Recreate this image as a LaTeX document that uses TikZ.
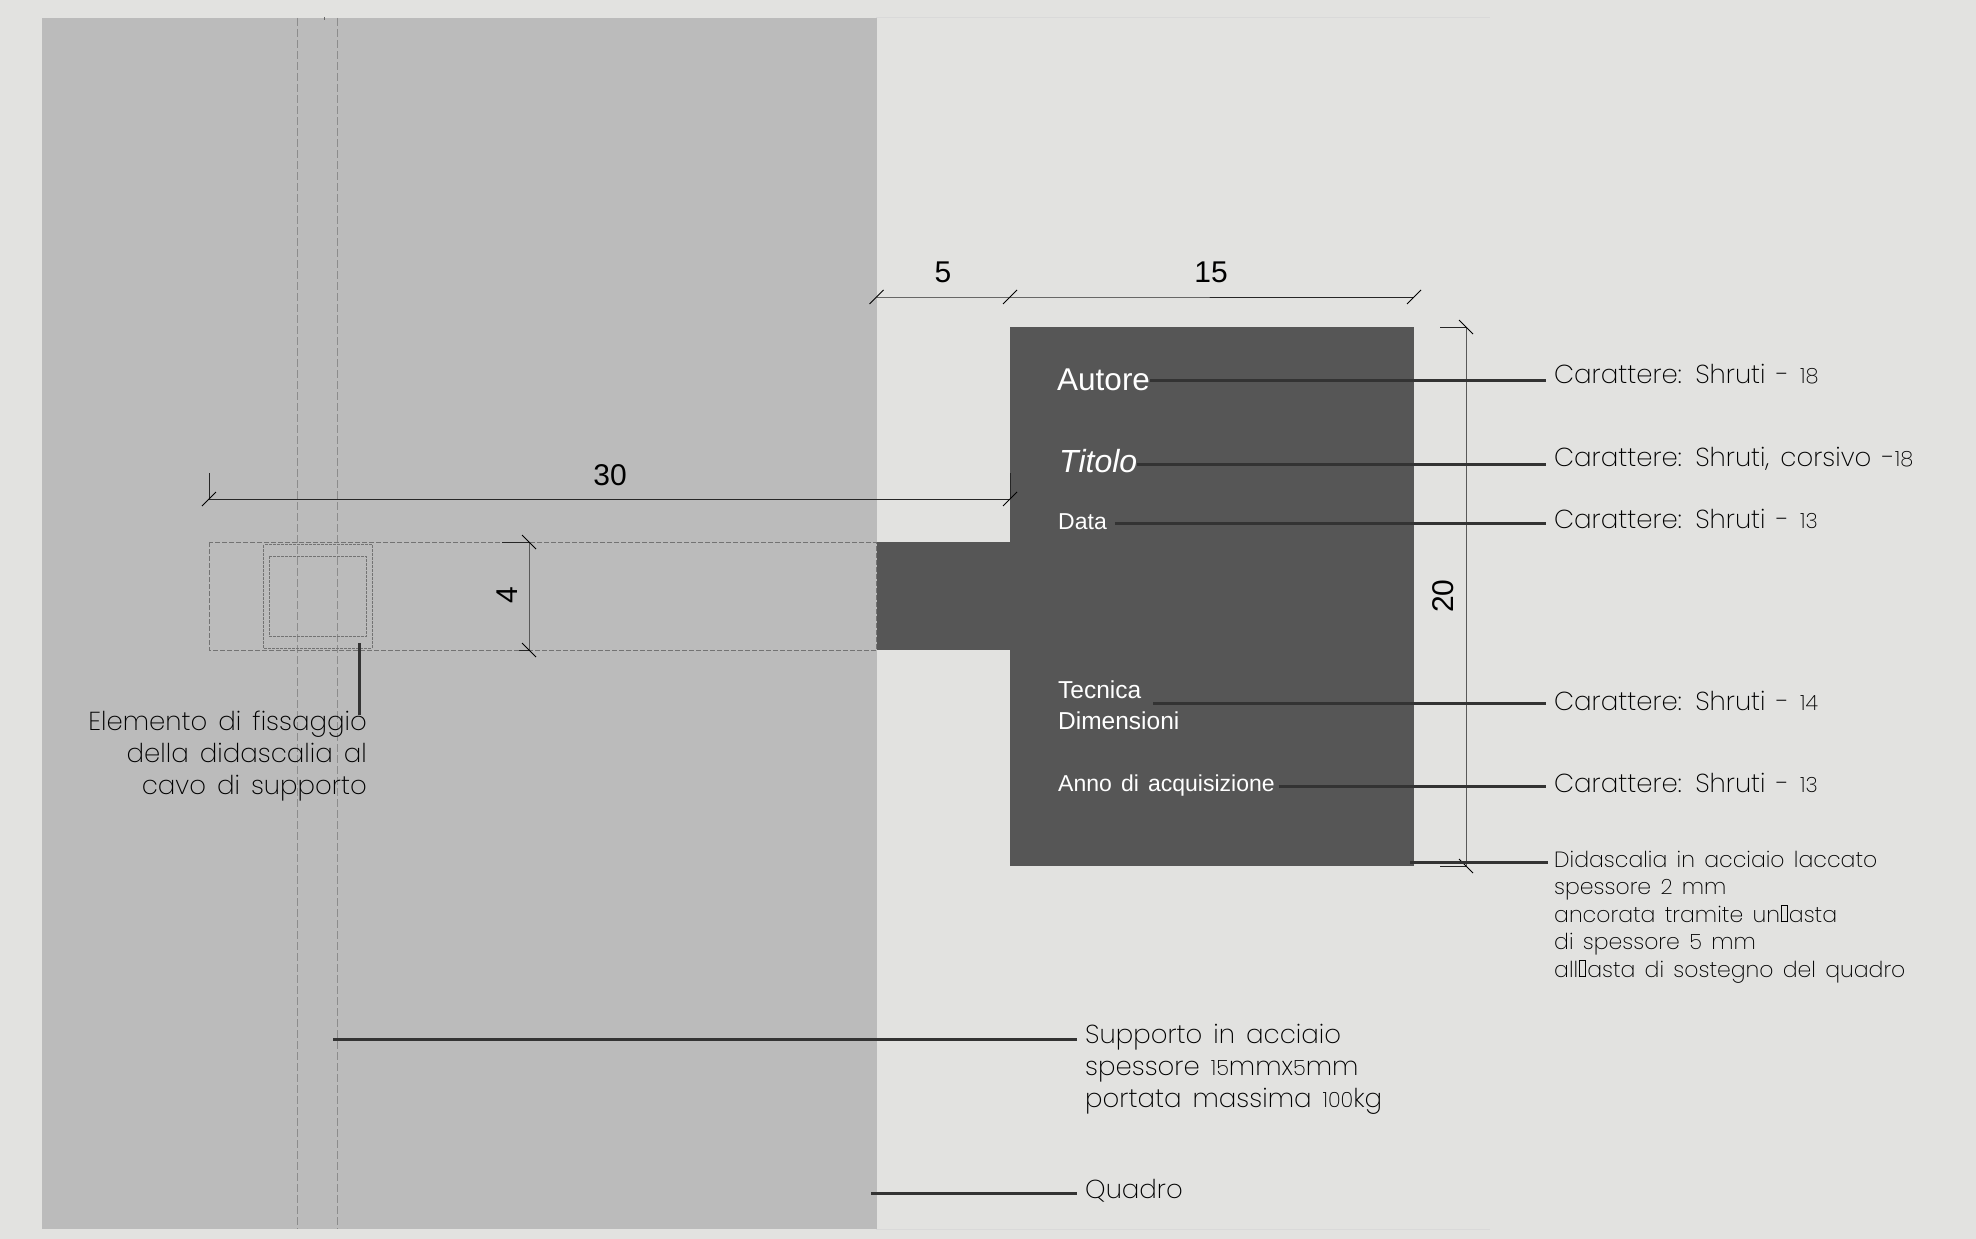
\documentclass[tikz,border=0pt]{standalone}
\usepackage{fontspec}
\setmainfont{Liberation Sans}
\newfontfamily\labelfont[WordSpace=1.5]{Poppins ExtraLight}
\definecolor{fondo}{HTML}{E2E2E0}
\definecolor{quadro}{HTML}{BBBBBB}
\definecolor{targa}{HTML}{565656}
\definecolor{guida}{HTML}{333333}
\newcommand{\cifra}[1]{{\fontsize{21}{27}\selectfont #1}}
\newcommand{\vuoto}{\kern1pt\rule[0pt]{1pt}{17pt}\kern-1pt\rule[16pt]{7pt}{1pt}\kern-7pt\rule[0pt]{7pt}{1pt}\kern-1pt\rule[0pt]{1pt}{17pt}\kern1pt}
\tikzset{
  guideline/.style={color=guida,line width=3pt},
  dimline/.style={color=black!85,line width=1pt},
  tickline/.style={color=black,line width=.9pt},
  hidden/.style={color=black!55,line width=1pt,dash pattern=on 5pt off 2pt},
  labeltext/.style={color=black,inner sep=0pt,anchor=west,font=\labelfont\fontsize{26}{32}\selectfont},
  platetext/.style={color=white,inner sep=0pt,anchor=west},
  dimtext/.style={color=black,font=\fontsize{30}{32}\selectfont,inner sep=0pt}
}
\begin{document}
\begin{tikzpicture}[x=1pt,y=-1pt]
	\fill[fondo] (0,0) rectangle (1976,1239);
	\useasboundingbox (0,0) rectangle (1976,1239);
	\draw[color=black!15,line width=1pt] (876,18) -- (1490,18);
	\draw[color=black!15,line width=1pt] (876,1229) -- (1490,1229);
	\fill[quadro] (42,18) rectangle (876.5,1229);
	\fill[targa] (876.5,542) rectangle (1010,650);
	\fill[targa] (1010,327) rectangle (1414,866);
	% parti nascoste
	\draw[hidden,dash pattern=on 8pt off 3pt,color=black!45] (297.5,18) -- (297.5,1229);
	\draw[hidden,dash pattern=on 8pt off 3pt,color=black!45] (337.5,18) -- (337.5,1229);
	\draw[hidden,color=black!60] (324,17) -- (324,20);
	\draw[hidden] (209,542) rectangle (876.5,650);
	\draw[hidden,dash pattern=on 3pt off 1pt] (263.5,544.5) rectangle (372,648);
	\draw[hidden,dash pattern=on 3pt off 1pt] (269,556) rectangle (366,636.5);
	% quote
	\coordinate (q30a) at (209,499);
	\coordinate (q30b) at (1010,499);
	\coordinate (q5a) at (876.5,297);
	\coordinate (q5b) at (1010,297);
	\coordinate (q15b) at (1414,297);
	\coordinate (q4a) at (529,542);
	\coordinate (q4b) at (529,650);
	\coordinate (q20a) at (1466,327);
	\coordinate (q20b) at (1466,866);
	\draw[dimline] (q30a) -- (q30b);
	\draw[dimline] (q30a) -- ++(0,-26);
	\draw[dimline] (q30b) -- ++(0,-26);
	\draw[dimline] (q5a) -- (q5b) -- (q15b);
	\draw[dimline,color=black!65] (q4a) -- (q4b);
	\draw[dimline] (q4a) -- ++(-27,0);
	\draw[dimline] (q4b) -- ++(-10,0);
	\draw[dimline,color=black!65] (q20a) -- (q20b);
	\draw[dimline] (q20a) -- ++(-26,0);
	\draw[dimline] (q20b) -- ++(-26,0);
	\foreach \q in {q30a,q30b,q5a,q5b,q15b}
		\draw[tickline] (\q) +(-7,7) -- +(7,-7);
	\foreach \q in {q4a,q4b,q20a,q20b}
		\draw[tickline] (\q) +(-7,-7) -- +(7,7);
	\node[dimtext] (n30) at (610,475) {30};
	\node[dimtext] (n5) at (943,272) {5};
	\node[dimtext] (n15) at (1211,272) {15};
	\node[dimtext,rotate=90] (n4) at (507,595) {4};
	\node[dimtext,rotate=90] (n20) at (1443,596) {20};
	% testi della didascalia
	\node[platetext,font=\fontsize{31.5}{34}\selectfont] (autore) at (1057,380) {Autore};
	\node[platetext,font=\itshape\fontsize{32}{34}\selectfont] (titolo) at (1059,461) {Titolo};
	\node[platetext,font=\fontsize{23}{26}\selectfont] (data) at (1058,522) {Data};
	\node[platetext,font=\fontsize{24.5}{31}\selectfont,align=left] (tecnica) at (1058,705) {Tecnica\\Dimensioni};
	\node[platetext,font=\fontsize{23}{26}\selectfont,align=left] (anno) at (1058,786) {Anno\hspace{.12em} di\hspace{.12em} acquisizione};
	% etichette
	\node[labeltext] (carautore) at (1554,374) {Carattere: Shruti - \cifra{18}};
	\node[labeltext] (cartitolo) at (1554,459) {Carattere: Shruti, corsivo -\cifra{18}};
	\node[labeltext] (cardata) at (1554,519) {Carattere: Shruti - \cifra{13}};
	\node[labeltext] (cartecnica) at (1554,701) {Carattere: Shruti - \cifra{14}};
	\node[labeltext] (caranno) at (1554,783) {Carattere: Shruti - \cifra{13}};
	\node[labeltext,font=\labelfont\fontsize{22}{27.4}\selectfont,align=left,anchor=north west] (didascalia) at (1554,851) {Didascalia in acciaio laccato\\spessore \cifra{2} mm\\ancorata tramite un\vuoto asta\\di spessore \cifra{5} mm\\all\vuoto asta di sostegno del quadro};
	\node[labeltext,align=left,anchor=north west] (supporto) at (1085,1024) {Supporto in acciaio\\spessore \cifra{15}mmx\cifra{5}mm\\portata massima \cifra{100}kg};
	\node[labeltext] (lquadro) at (1085,1191) {Quadro};
	\node[labeltext,align=right,anchor=north east] (elemento) at (367,711) {Elemento di fissaggio\\della didascalia al\\cavo di supporto};
	% linee di richiamo
	\coordinate (fissaggio) at (359,643);
	\coordinate (fissaggiob) at (359,715);
	\coordinate (cavo) at (333,1039);
	\coordinate (bordo) at (871,1193);
	\coordinate (targa) at (1410,862);
	\draw[guideline] (fissaggio) -- (fissaggiob);
	\draw[guideline] (autore.east |- 0,380) -- (1546,380);
	\draw[guideline] (titolo.east |- 0,464) -- (1546,464);
	\draw[guideline] (data.east) ++(8,1) -- (1546,523);
	\draw[guideline] (1153,703) -- (1546,703);
	\draw[guideline] (anno.east) ++(4,0) -- (1546,786);
	\draw[guideline] (targa) -- (1548,862);
	\draw[guideline] (cavo) -- (1077,1039);
	\draw[guideline] (bordo) -- (1077,1193);
\end{tikzpicture}
\end{document}
